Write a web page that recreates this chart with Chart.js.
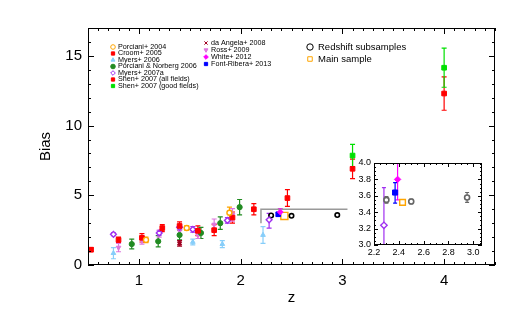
<!DOCTYPE html>
<html>
<head>
<meta charset="utf-8">
<script src="https://cdn.jsdelivr.net/npm/chart.js@4.4.1/dist/chart.umd.min.js"></script>
<style>
  body { margin: 0; background: #fff; }
  #wrap { position: relative; width: 521px; height: 321px; }
  #main { position: absolute; left: 0; top: 0; }
  #inset { position: absolute; left: 340px; top: 150px; }
</style>
</head>
<body>
<div id="wrap">
  <canvas id="main" width="521" height="321"></canvas>
  <canvas id="inset" width="150" height="112"></canvas>
</div>
<script>
const FONT = "'Liberation Sans', Arial, Helvetica, sans-serif";

// tick labels
const xTicksMain = [1, 2, 3, 4];
const yTicksMain = [0, 5, 10, 15];
const xTicksInset = [2.2, 2.4, 2.6, 2.8, 3.0];
const yTicksInset = [3.0, 3.2, 3.4, 3.6, 3.8, 4.0];

// data: redshift, bias, error
const porciani04Z = [1.07, 1.47, 1.89];
const porciani04B = [1.80, 2.65, 3.75];
const porciani04E = [0.20, 0.15, 0.40];

const croomZ = [0.53, 0.80, 1.03, 1.23, 1.40, 1.58, 1.74, 1.92, 2.13, 2.46];
const croomB = [1.10, 1.80, 1.95, 2.65, 2.80, 2.45, 2.50, 3.40, 4.00, 4.80];
const croomE = [0.15, 0.20, 0.30, 0.25, 0.30, 0.35, 0.40, 0.40, 0.40, 0.60];

const myers06Z = [0.75, 1.53, 1.82, 2.22];
const myers06B = [0.85, 1.65, 1.50, 2.15];
const myers06E = [0.40, 0.20, 0.25, 0.60];

const pnZ = [0.93, 1.19, 1.40, 1.61, 1.80, 1.99];
const pnB = [1.50, 1.70, 2.15, 2.30, 3.00, 4.15];
const pnE = [0.35, 0.40, 0.35, 0.40, 0.45, 0.55];

const myers07Z = [0.75, 1.20, 1.40, 1.53, 1.87, 2.28];
const myers07B = [2.20, 2.30, 2.70, 2.55, 3.20, 3.24];
const myers07Lo = [0.10, 0.15, 0.15, 0.20, 0.20, 0.60];
const myers07Hi = [0.10, 0.15, 0.15, 0.20, 0.20, 0.46];

const shenAllZ = [3.10, 4.00];
const shenAllB = [6.90, 12.30];
const shenAllE = [0.70, 1.20];

const shenGoodZ = [3.10, 4.00];
const shenGoodB = [7.85, 14.15];
const shenGoodE = [0.80, 1.40];

const daAngelaZ = [1.40];
const daAngelaB = [1.55];
const daAngelaE = [0.20];

const rossZ = [0.80, 1.03, 1.20, 1.40, 1.58, 1.74, 1.92];
const rossB = [1.25, 1.75, 2.25, 2.45, 2.15, 2.90, 3.60];
const rossE = [0.30, 0.25, 0.25, 0.20, 0.25, 0.40, 0.45];

const whiteZ = [2.39];
const whiteB = [3.80];
const whiteE = [0.25];

const fontZ = [2.37];
const fontB = [3.64];
const fontLo = [0.13];
const fontHi = [0.12];

const subZ = [2.30, 2.50, 2.95];
const subB = [3.55, 3.53, 3.58];
const subE = [0.04, 0.03, 0.06];

const mainZ = [2.43];
const mainB = [3.52];
const mainE = [0.03];

// region shown in the inset
const boxZ = [2.2, 2.2, 3.05];
const boxB = [3.0, 4.0, 4.0];

const surveys = [
  { label: "Porciani+ 2004", z: porciani04Z, b: porciani04B, lo: porciani04E, hi: porciani04E, color: "#ffa500", style: "circle", open: true, r: 2.5 },
  { label: "Croom+ 2005", z: croomZ, b: croomB, lo: croomE, hi: croomE, color: "#ff0000", style: "rect", r: 3.3 },
  { label: "Myers+ 2006", z: myers06Z, b: myers06B, lo: myers06E, hi: myers06E, color: "#87cefa", style: "triangle", r: 2.7 },
  { label: "Porciani & Norberg 2006", z: pnZ, b: pnB, lo: pnE, hi: pnE, color: "#228b22", style: "circle", r: 2.6 },
  { label: "Myers+ 2007a", z: myers07Z, b: myers07B, lo: myers07Lo, hi: myers07Hi, color: "#a030f0", style: "rectRot", open: true, r: 2.9 },
  { label: "Shen+ 2007 (all fields)", z: shenAllZ, b: shenAllB, lo: shenAllE, hi: shenAllE, color: "#ff0000", style: "rect", r: 3.3 },
  { label: "Shen+ 2007 (good fields)", z: shenGoodZ, b: shenGoodB, lo: shenGoodE, hi: shenGoodE, color: "#00e000", style: "rect", r: 3.3 },
  { label: "da Angela+ 2008", z: daAngelaZ, b: daAngelaB, lo: daAngelaE, hi: daAngelaE, color: "#a00020", style: "crossRot", r: 2.7, bw: 2 },
  { label: "Ross+ 2009", z: rossZ, b: rossB, lo: rossE, hi: rossE, color: "#dd77dd", style: "triangle", rot: 180, r: 2.7 },
  { label: "White+ 2012", z: whiteZ, b: whiteB, lo: whiteE, hi: whiteE, color: "#ff00ff", style: "rectRot", r: 2.9 },
  { label: "Font-Ribera+ 2013", z: fontZ, b: fontB, lo: fontLo, hi: fontHi, color: "#0000ff", style: "rect", r: 3.3 },
  { label: "Redshift subsamples", z: subZ, b: subB, lo: subE, hi: subE, color: "#000000", insetColor: "#666666", style: "circle", open: true, r: 2.2, bw: 1.6 },
  { label: "Main sample", z: mainZ, b: mainB, lo: mainE, hi: mainE, color: "#ffa500", style: "rect", open: true, r: 5, insetR: 4 }
];

const legendCols = [
  { x: 113, y: 47, step: 6.5, size: 7.2, names: ["Porciani+ 2004", "Croom+ 2005", "Myers+ 2006", "Porciani & Norberg 2006", "Myers+ 2007a", "Shen+ 2007 (all fields)", "Shen+ 2007 (good fields)"] },
  { x: 206, y: 43, step: 7, size: 7.2, names: ["da Angela+ 2008", "Ross+ 2009", "White+ 2012", "Font-Ribera+ 2013"] },
  { x: 310, y: 47, step: 12, size: 9.5, names: ["Redshift subsamples", "Main sample"] }
];

function makeSets(inset) {
  const sets = surveys.map(s => {
    const c = inset && s.insetColor ? s.insetColor : s.color;
    return {
      label: s.label,
      data: s.z.map((z, i) => ({ x: z, y: s.b[i], lo: s.b[i] - s.lo[i], hi: s.b[i] + s.hi[i] })),
      bars: true,
      pointStyle: s.style,
      rotation: s.rot || 0,
      radius: inset ? (s.insetR || s.r + 0.3) : s.r,
      borderColor: c,
      backgroundColor: s.open ? "#ffffff" : c,
      borderWidth: s.bw || (s.open ? 1.4 : 1),
      order: 0
    };
  });
  if (!inset) {
    sets.push({
      type: "line",
      data: boxZ.map((z, i) => ({ x: z, y: boxB[i] })),
      borderColor: "#999999",
      borderWidth: 1.5,
      pointRadius: 0,
      showLine: true,
      fill: false,
      order: 10
    });
  }
  return sets;
}

const errorBars = {
  id: "errorBars",
  beforeDatasetsDraw(chart, args, o) {
    const { ctx, chartArea: a, scales: { x, y } } = chart;
    ctx.save();
    ctx.beginPath();
    ctx.rect(a.left, a.top, a.right - a.left, a.bottom - a.top);
    ctx.clip();
    chart.data.datasets.forEach(ds => {
      if (!ds.bars) return;
      ctx.strokeStyle = ds.borderColor;
      ctx.lineWidth = 1.2;
      ds.data.forEach(p => {
        const px = x.getPixelForValue(p.x);
        const y0 = y.getPixelForValue(p.lo);
        const y1 = y.getPixelForValue(p.hi);
        ctx.beginPath();
        ctx.moveTo(px, y0); ctx.lineTo(px, y1);
        ctx.moveTo(px - o.cap, y0); ctx.lineTo(px + o.cap, y0);
        ctx.moveTo(px - o.cap, y1); ctx.lineTo(px + o.cap, y1);
        ctx.stroke();
      });
    });
    ctx.restore();
  }
};

function steps(min, max, step) {
  const out = [];
  for (let v = Math.ceil(min / step - 1e-6) * step; v <= max + 1e-9; v += step) out.push(v);
  return out;
}

const frameTicks = {
  id: "frameTicks",
  afterDraw(chart, args, o) {
    const { ctx, chartArea: a, scales: { x, y } } = chart;
    ctx.save();
    ctx.strokeStyle = "#000";
    ctx.lineWidth = 1;
    ctx.beginPath();
    steps(x.min, x.max, o.xMinor).forEach(v => {
      const len = Math.abs(v / o.xMajor - Math.round(v / o.xMajor)) < 1e-6 ? o.major : o.minor;
      const px = Math.round(x.getPixelForValue(v)) + 0.5;
      ctx.moveTo(px, a.bottom); ctx.lineTo(px, a.bottom - len);
      ctx.moveTo(px, a.top); ctx.lineTo(px, a.top + len);
    });
    steps(y.min, y.max, o.yMinor).forEach(v => {
      const len = Math.abs(v / o.yMajor - Math.round(v / o.yMajor)) < 1e-6 ? o.major : o.minor;
      const py = Math.round(y.getPixelForValue(v)) + 0.5;
      ctx.moveTo(a.left, py); ctx.lineTo(a.left + len, py);
      ctx.moveTo(a.right, py); ctx.lineTo(a.right - len, py);
    });
    ctx.stroke();
    ctx.strokeRect(Math.round(a.left) + 0.5, Math.round(a.top) + 0.5, Math.round(a.right - a.left) - 1, Math.round(a.bottom - a.top) - 1);
    ctx.restore();
  }
};

const insetBg = {
  id: "insetBg",
  beforeDraw(chart) {
    const { ctx, chartArea: a } = chart;
    ctx.save();
    ctx.fillStyle = "#fff";
    ctx.fillRect(a.left, a.top, a.right - a.left, a.bottom - a.top);
    ctx.restore();
  }
};

const legendDraw = {
  id: "legendDraw",
  afterDraw(chart) {
    const ctx = chart.ctx;
    ctx.save();
    legendCols.forEach(col => {
      col.names.forEach((name, i) => {
        const s = surveys.find(v => v.label === name);
        const yy = col.y + i * col.step;
        ctx.fillStyle = s.open ? "#fff" : s.color;
        ctx.strokeStyle = s.color;
        const big = col.size > 8;
        Chart.helpers.drawPoint(ctx, {
          pointStyle: s.style,
          rotation: s.rot || 0,
          radius: big ? 3.2 : 2.3,
          borderWidth: big ? 1.2 : (s.bw || (s.open ? 1.2 : 0.8))
        }, col.x, yy);
        ctx.fillStyle = "#000";
        ctx.font = col.size + "px " + FONT;
        ctx.textBaseline = "middle";
        ctx.textAlign = "left";
        ctx.fillText(name, col.x + (big ? 8 : 5), yy);
      });
    });
    ctx.restore();
  }
};

const mainChart = new Chart(document.getElementById("main"), {
  type: "scatter",
  data: { datasets: makeSets(false) },
  options: {
    responsive: false,
    animation: false,
    layout: { padding: { top: 28, right: 26, left: 0, bottom: 0 } },
    plugins: {
      legend: { display: false },
      tooltip: { enabled: false },
      errorBars: { cap: 2.5 },
      frameTicks: { xMajor: 1, xMinor: 0.1, yMajor: 5, yMinor: 1, major: 6, minor: 3 }
    },
    scales: {
      x: {
        type: "linear", min: 0.5, max: 4.5,
        afterFit: s => { s.height = 56; },
        afterBuildTicks: s => { s.ticks = xTicksMain.map(v => ({ value: v })); },
        grid: { display: false, drawTicks: false },
        border: { display: false },
        ticks: { color: "#000", padding: 7, font: { family: FONT, size: 15 } },
        title: { display: true, text: "z", color: "#000", font: { family: FONT, size: 15 }, padding: { top: 0, bottom: 14 } }
      },
      y: {
        type: "linear", min: 0, max: 17,
        afterFit: s => { s.width = 88; },
        afterBuildTicks: s => { s.ticks = yTicksMain.map(v => ({ value: v })); },
        grid: { display: false, drawTicks: false },
        border: { display: false },
        ticks: { color: "#000", padding: 6, font: { family: FONT, size: 15 } },
        title: { display: true, text: "Bias", color: "#000", font: { family: FONT, size: 15 }, padding: { top: 37, bottom: 0 } }
      }
    }
  },
  plugins: [errorBars, frameTicks, legendDraw]
});

const insetChart = new Chart(document.getElementById("inset"), {
  type: "scatter",
  data: { datasets: makeSets(true) },
  options: {
    responsive: false,
    animation: false,
    layout: { padding: { top: 13, right: 8, left: 0, bottom: 0 } },
    plugins: {
      legend: { display: false },
      tooltip: { enabled: false },
      errorBars: { cap: 2 },
      frameTicks: { xMajor: 0.2, xMinor: 0.05, yMajor: 0.2, yMinor: 0.05, major: 4, minor: 2 }
    },
    scales: {
      x: {
        type: "linear", min: 2.2, max: 3.07,
        afterFit: s => { s.height = 17; },
        afterBuildTicks: s => { s.ticks = xTicksInset.map(v => ({ value: v })); },
        grid: { display: false, drawTicks: false },
        border: { display: false },
        ticks: { color: "#000", padding: 2, font: { family: FONT, size: 9 }, callback: v => Number(v).toFixed(1) }
      },
      y: {
        type: "linear", min: 3.0, max: 4.0,
        afterFit: s => { s.width = 34; },
        afterBuildTicks: s => { s.ticks = yTicksInset.map(v => ({ value: v })); },
        grid: { display: false, drawTicks: false },
        border: { display: false },
        ticks: { color: "#000", padding: 3, font: { family: FONT, size: 9 }, callback: v => Number(v).toFixed(1) }
      }
    }
  },
  plugins: [insetBg, errorBars, frameTicks]
});
</script>
</body>
</html>
